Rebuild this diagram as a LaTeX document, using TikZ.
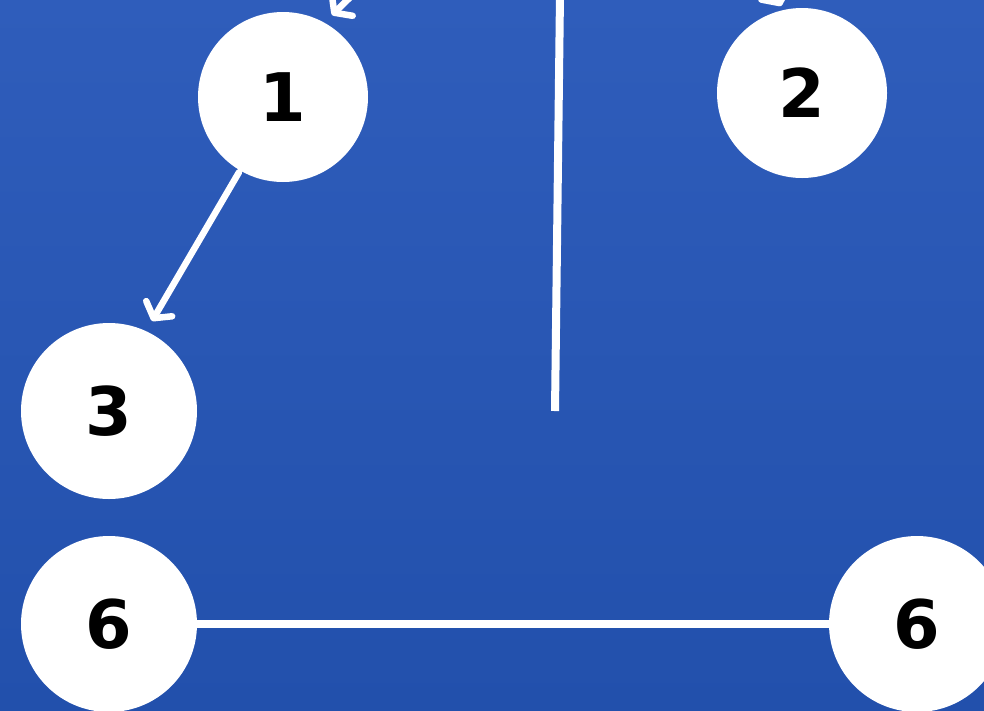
\documentclass[tikz,border=0pt]{standalone}
\usepackage{fontspec}
\setmainfont{DejaVu Sans}
\usetikzlibrary{arrows.meta}
\definecolor{bgtop}{RGB}{47,93,187}
\definecolor{bgbot}{RGB}{34,80,172}
\tikzset{
  num/.style={circle, fill=white, minimum size=#1, inner sep=0pt,
    font=\bfseries\fontsize{67}{67}\selectfont, text=black},
  wline/.style={draw=white, line width=8pt},
  warrow/.style={draw=white, line width=6.5pt, line cap=round,
    -{Straight Barb[length=11pt,width=30pt,round,line width=6.5pt]}}
}
\begin{document}
\begin{tikzpicture}[x=1pt,y=-1pt]
\useasboundingbox (0,0) rectangle (984,710);
\clip (0,0) rectangle (984,710);
\shade[top color=bgtop, bottom color=bgbot] (0,0) rectangle (984,710);
% nodes
\node[num=170pt] (n1) at (283,97) {1};
\node[num=170pt] (n2) at (802,93) {2};
\node[num=176pt] (n3) at (109,411) {3};
\node[num=176pt] (n6a) at (109,624) {6};
\node[num=176pt] (n6b) at (917,624) {6};
% off-frame ends
\coordinate (src1) at (372,-24);
\coordinate (tip1) at (332,15);
\coordinate (src2) at (760,-38);
\coordinate (tip2) at (781,6);
\coordinate (vtop) at (560,-5);
\coordinate (vbot) at (555,411);
\coordinate (tip3) at (152,321);
% connectors
\draw[warrow] (src1) -- (tip1);
\draw[warrow] (src2) -- (tip2);
\draw[wline] (vtop) -- (vbot);
\draw[warrow, shorten <=2pt] (n1) -- (tip3);
\draw[wline] (n6a.east) -- (n6b.west);
\end{tikzpicture}
\end{document}
